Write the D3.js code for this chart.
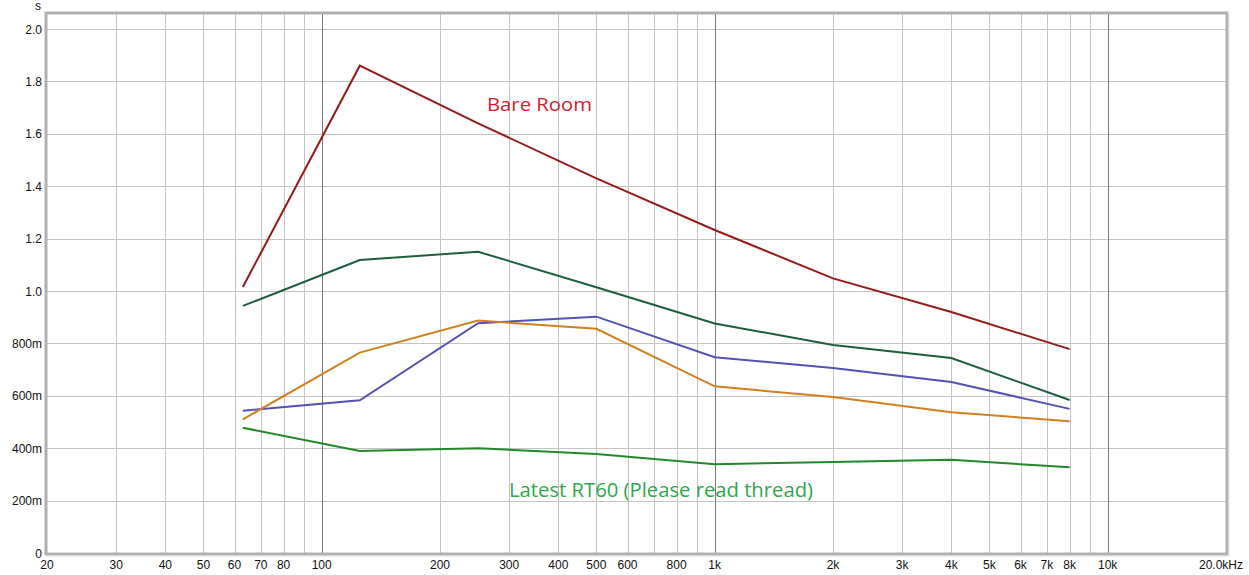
<!DOCTYPE html>
<html><head><meta charset="utf-8">
<script src="https://cdn.jsdelivr.net/npm/d3@7"></script>
<style>html,body{margin:0;padding:0;background:#fff;}svg{display:block;}</style>
</head><body><svg id="c" width="1249" height="575"></svg>
<script>
const bands = [63, 125, 250, 500, 1000, 2000, 4000, 8000];
const bareRoom = [1.015, 1.860, 1.64, 1.43, 1.233, 1.048, 0.920, 0.778];
const darkGreen = [0.943, 1.118, 1.150, 1.014, 0.876, 0.794, 0.744, 0.584];
const blue = [0.543, 0.583, 0.877, 0.902, 0.747, 0.706, 0.653, 0.550];
const orange = [0.510, 0.765, 0.887, 0.856, 0.636, 0.595, 0.537, 0.503];
const latest = [0.478, 0.389, 0.400, 0.378, 0.339, 0.347, 0.356, 0.327];
const seriesNames = ["Bare Room", "Treatment A", "Treatment B", "Treatment C", "Latest RT60"];
const seriesColors = ["#961a1a", "#1d5e3c", "#5252b4", "#d2801f", "#23882a"];
const seriesValues = [bareRoom, darkGreen, blue, orange, latest];
const xTickValues = [20,30,40,50,60,70,80,100,200,300,400,500,600,800,1000,2000,3000,4000,5000,6000,7000,8000,10000,20000];
const xTickLabels = ["20","30","40","50","60","70","80","100","200","300","400","500","600","800","1k","2k","3k","4k","5k","6k","7k","8k","10k","20.0kHz"];
const xGrid = [30,40,50,60,70,80,90,100,200,300,400,500,600,700,800,900,1000,2000,3000,4000,5000,6000,7000,8000,9000,10000];
const yTickValues = [0,0.2,0.4,0.6,0.8,1.0,1.2,1.4,1.6,1.8,2.0];
const yTickLabels = ["0","200m","400m","600m","800m","1.0","1.2","1.4","1.6","1.8","2.0"];

const svg = d3.select("#c");
const L = 47, R = 1226, T = 14, B = 553;
const x = d3.scaleLog().domain([20, 20000]).range([L, R]);
const y = d3.scaleLinear().domain([0, 2.0]).range([B, 29]);

// grid
const g = svg.append("g");
g.selectAll("line.h").data(yTickValues.slice(1)).join("line")
  .attr("x1", L).attr("x2", R).attr("y1", d => Math.round(y(d)) + 0.5).attr("y2", d => Math.round(y(d)) + 0.5)
  .attr("stroke", "#c4c4c4").attr("stroke-width", 1);
g.selectAll("line.v").data(xGrid).join("line")
  .attr("x1", d => Math.round(x(d)) + 0.5).attr("x2", d => Math.round(x(d)) + 0.5)
  .attr("y1", T).attr("y2", B)
  .attr("stroke", d => (d === 100 || d === 1000 || d === 10000) ? "#7a7a7a" : "#c4c4c4").attr("stroke-width", 1);

// frame
svg.append("rect").attr("x", L - 1).attr("y", T - 1).attr("width", R - L + 2).attr("height", B - T + 2)
  .attr("fill", "none").attr("stroke", "#b0b0b0").attr("stroke-width", 3);
svg.append("line").attr("x1", R + 3).attr("x2", R + 3).attr("y1", T).attr("y2", B + 3).attr("stroke", "#dcdcdc").attr("stroke-width", 1);
svg.append("line").attr("x1", L).attr("x2", R + 3).attr("y1", B + 3).attr("y2", B + 3).attr("stroke", "#dcdcdc").attr("stroke-width", 1);

// axes labels
const font = "'Liberation Sans', Arial, sans-serif";
svg.append("g").selectAll("text").data(yTickValues).join("text")
  .attr("x", 42).attr("y", d => y(d) + 4.5).attr("text-anchor", "end")
  .attr("font-family", font).attr("font-size", 12).attr("fill", "#111")
  .text((d, i) => yTickLabels[i]);
svg.append("text").attr("x", 38).attr("y", 10).attr("text-anchor", "middle")
  .attr("font-family", font).attr("font-size", 12).attr("fill", "#111").text("s");
svg.append("g").selectAll("text").data(xTickValues).join("text")
  .attr("x", d => x(d) - (d === 20000 ? 5 : 0)).attr("y", 569).attr("text-anchor", "middle")
  .attr("font-family", font).attr("font-size", 12).attr("fill", "#111")
  .text((d, i) => xTickLabels[i]);

// lines
const line = d3.line().x((d, i) => x(bands[i])).y(d => y(d));
svg.append("g").selectAll("path").data(seriesValues).join("path")
  .attr("d", d => line(d)).attr("fill", "none")
  .attr("stroke", (d, i) => seriesColors[i]).attr("stroke-width", 2).attr("stroke-linejoin", "miter");

// annotations
const ann = "'Open Sans', 'Noto Sans', sans-serif";
svg.append("text").attr("x", 487).attr("y", 111).attr("font-family", ann).attr("font-size", 19)
  .attr("fill", "#d0202c").attr("textLength", 105).attr("lengthAdjust", "spacingAndGlyphs").text("Bare Room");
svg.append("text").attr("x", 509).attr("y", 497).attr("font-family", ann).attr("font-size", 20)
  .attr("fill", "#2ea84c").attr("textLength", 304).attr("lengthAdjust", "spacingAndGlyphs").text("Latest RT60 (Please read thread)");
</script></body></html>
